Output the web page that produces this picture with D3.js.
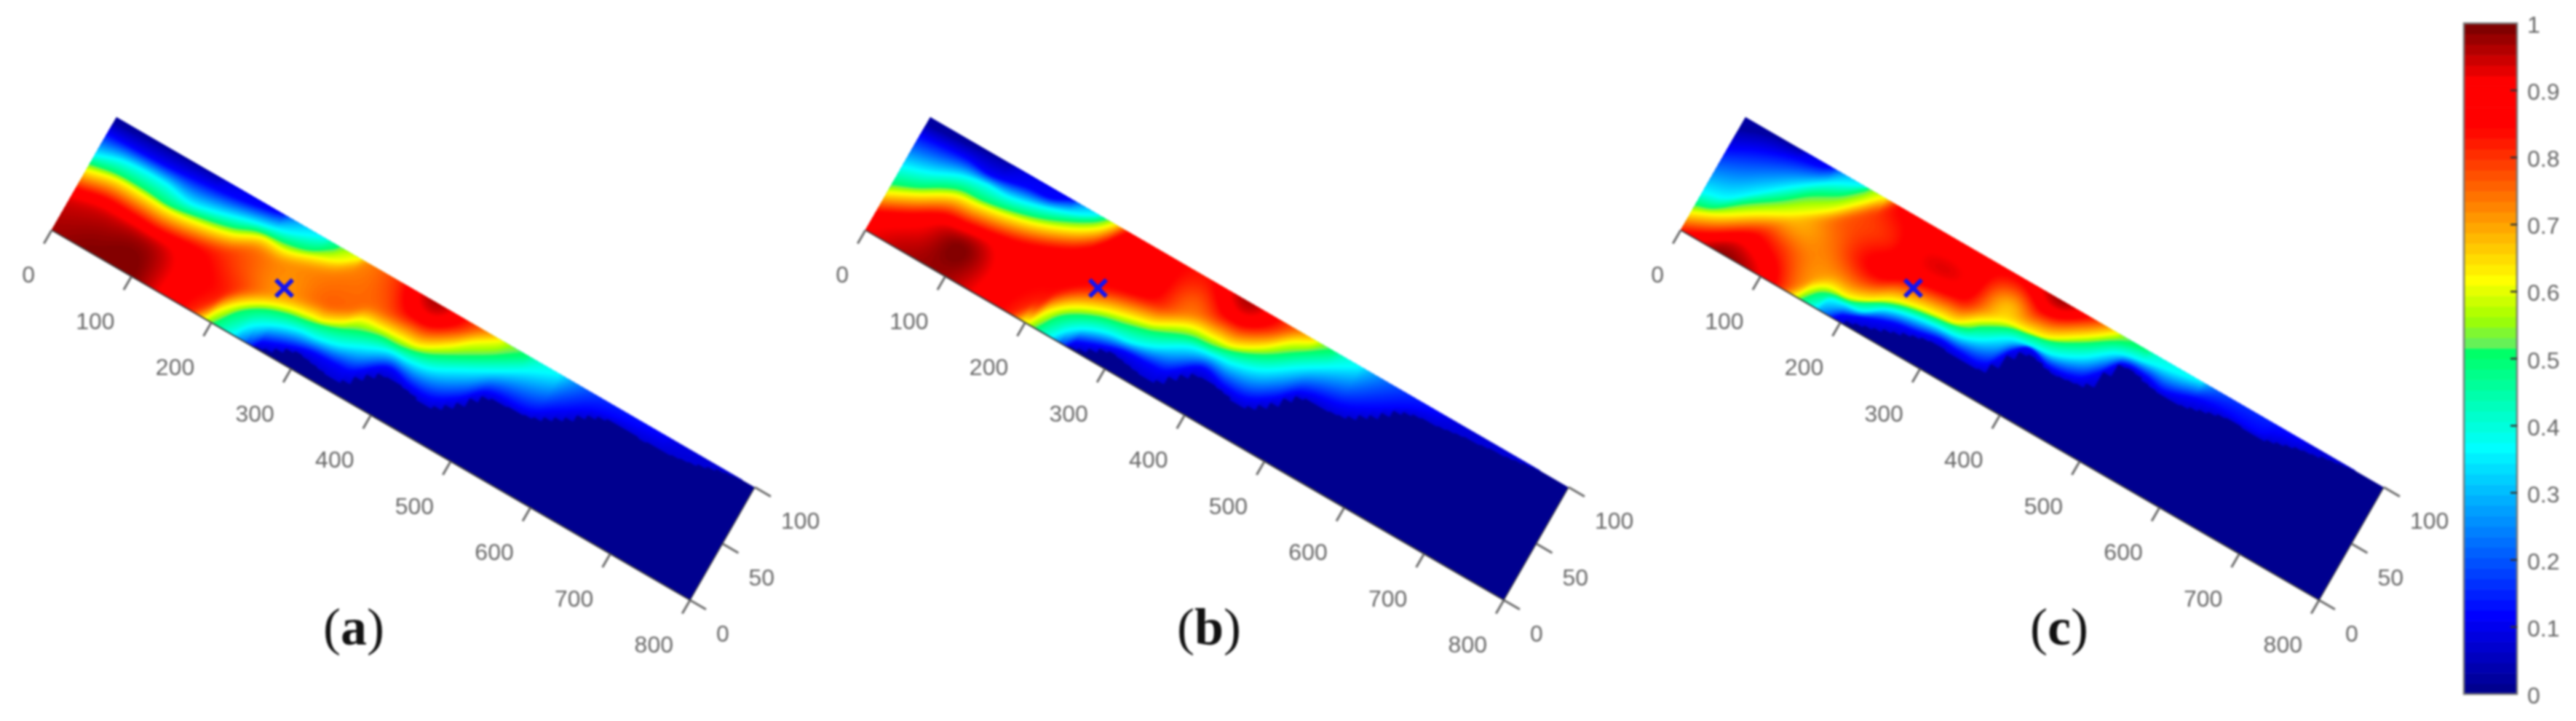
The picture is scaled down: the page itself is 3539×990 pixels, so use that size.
<!DOCTYPE html>
<html><head><meta charset="utf-8">
<style>html,body{margin:0;padding:0;background:#fff}svg{display:block;filter:blur(1.4px)}</style>
<script src="https://cdnjs.cloudflare.com/ajax/libs/d3/7.8.5/d3.min.js"></script>
</head><body><svg id="c" width="3539" height="990"></svg>
<script>
const xTicks=[0,100,200,300,400,500,600,700,800];
const yTicks=[0,50,100];
const cbTicks=[0,0.1,0.2,0.3,0.4,0.5,0.6,0.7,0.8,0.9,1];
const cbLabels=["0","0.1","0.2","0.3","0.4","0.5","0.6","0.7","0.8","0.9","1"];
const panelNames=["a","b","c"];
const markerPoint=[250,51];
const lvlFloor=0.07,lvlBlue=0.111,lvlCyan=0.365,lvlGreen=0.5,lvlYellow=0.619,lvlNavy=0.03;
const plateauX=[0,50,100,150,200,250,300,350,400,450,500];
const plateauY=[0,25,50,75,100];
const aFloor=[[255,0],[275,5],[295,13],[320,12],[348,9],[364,15],[374,22],[393,31.5],[425,29.6],[453,28.3],[477,40],[501,55.5],[550,59.3],[579,68.8],[619,86.5],[675,88],[718,90],[753,96],[780,100]];
const aLowBlue=[[258,6.5],[283,13.4],[309,18.8],[340,20],[358,21.7],[390,38],[421,34.4],[448,34.8],[473,45],[497,60],[546,64],[573,75],[607,89],[668,97],[690,100]];
const aLowCyan=[[226,0],[238,12.3],[260.6,22.5],[286,28.6],[309,30.5],[333,34.7],[357,42.5],[381.5,49.4],[408,50.6],[432,54],[460.5,64.5],[495,77.8],[525,90],[556,100.5]];
const aLowGreen=[[203,0],[219.6,16.8],[241,27.9],[266,34.4],[293.5,38.2],[319.6,43.5],[347,51.5],[367,55.5],[391,56.5],[418,61],[441.5,69],[465,78],[487.5,87.5],[510,97.6],[515,100]];
const aLowYellow=[[191,-0.6],[200,10.6],[215,22],[237,32.4],[262,39.2],[290,43],[304,44.4],[323,51],[340,60],[362,62],[386,63],[409,64.8],[436,76],[457,87.8],[479,98],[484,101]];
const aUpNavy=[[0,95],[50,97],[100,99],[130,101]];
const aUpBlue=[[0,85.8],[71.5,87],[115,89.7],[157.6,93],[199,98.3],[210,101]];
const aUpCyan=[[0,66.7],[30.7,73.5],[81,74.9],[114.5,71.3],[142,75],[181.5,82.6],[221.6,89.3],[246,96.3],[262,101.5]];
const aUpGreen=[[0,59.2],[30,63],[66,63.3],[97.6,62],[133.8,66.3],[168.7,72],[193.5,78.9],[227.4,82],[254,86.9],[275.7,97.5],[280,101.4]];
const aUpYellow=[[0,53.3],[33.7,58.5],[70.2,58.5],[101,58],[137.7,61.4],[172.7,67],[202,76],[232,76.4],[262.7,83.5],[287,90.5],[304.4,99.6],[306,101]];
const aPlateau=[
 [.98,1.0,1.0,.88,.78,.70,.75,.75,.75,.75,.75],
 [.95,.97,.98,.89,.82,.74,.76,.76,.80,.80,.80],
 [.90,.90,.90,.85,.78,.72,.77,.76,.80,.80,.80],
 [.85,.85,.85,.80,.76,.73,.75,.77,.86,.76,.72],
 [.80,.80,.80,.80,.76,.72,.72,.80,.97,.80,.70]];
const bFloor=[[255,0],[275,5],[295,13],[320,12],[348,9],[364,15],[374,22],[393,31.5],[425,29.6],[453,28.3],[477,40],[501,55.5],[550,59.3],[577,70.5],[607,86],[646,90],[672,92.4],[720,96],[760,100]];
const bLowBlue=[[258,6.5],[283,13.4],[309,18.8],[340,20],[358,21.7],[390,38],[421,34.4],[448,34.8],[473,45],[497,60],[546,68],[572,77],[606,91],[640,100]];
const bLowCyan=[[232,0],[241,9],[258,18.3],[282.7,25],[311,28],[336,34.5],[368,47.2],[395.6,50.8],[418.4,52.7],[449,60],[482,75.5],[515.6,90],[536,98.7],[540,101]];
const bLowGreen=[[214,0],[227,15],[244,24.3],[268,32],[294.8,36.6],[321,41.8],[328.3,43.7],[362.8,53.7],[391,56.5],[417,61.8],[445.7,71.4],[474,85],[505,99.5],[507,101]];
const bLowYellow=[[198,0],[203.8,2.5],[214.6,15.4],[234.8,28],[263.5,37.7],[289.6,43],[316.3,47.5],[323.8,49.4],[357,61],[385.7,63],[408.6,64.8],[436.5,75.3],[461.4,89.7],[479.6,97.2],[485,101]];
const bUpNavy=[[0,93],[50,96],[100,100]];
const bUpBlue=[[0,84],[56,87],[88,85],[129,91],[157.6,93],[180,101]];
const bUpCyan=[[0,56.4],[30,63.3],[61,73],[88.8,76.9],[116,77.2],[150.7,82.8],[189,92],[209,99.2],[212,101]];
const bUpGreen=[[0,41.3],[26,49],[49,58.4],[68.5,64],[95,65.4],[122.4,69],[156.7,75.7],[188,85.4],[211,94.7],[221,101]];
const bUpYellow=[[0,33.3],[30,44],[65,57.4],[93,60.3],[126,64.3],[160.6,70.7],[197.4,81.6],[219.6,91.8],[232,101]];
const bPlateau=[
 [.92,.97,.98,.89,.80,.76,.76,.76,.76,.76,.76],
 [.88,.92,1.0,.90,.84,.83,.84,.80,.80,.80,.80],
 [.85,.87,.92,.88,.875,.85,.84,.75,.80,.80,.80],
 [.80,.85,.88,.88,.875,.88,.88,.76,.86,.75,.72],
 [.80,.80,.85,.86,.875,.875,.87,.84,.97,.80,.70]];
const cFloor=[[200,0],[206.8,2.6],[240.4,9.9],[278.6,19],[306,22.8],[322,21.8],[362.9,23.5],[376.9,40],[394.9,51.6],[428,48],[453.9,50],[471.2,55],[488,79],[533,76],[564,75.7],[611.4,84.6],[659.8,84.9],[675,88],[720,95],[760,100]];
const cLowBlue=[[190,0],[198.3,5.6],[248,19.5],[275,23],[302.7,27],[327.5,26.2],[359,28.4],[375,45.8],[391,55.7],[419.6,51],[453,55],[469,65],[486.8,80.8],[516,82],[540,79],[578.8,87],[607.5,89.4],[653.6,88.9],[669,95],[700,101]];
const cLowCyan=[[168.6,1],[176,10.4],[191.7,13.8],[213.9,16.2],[236,26.6],[262,31.7],[290,34.7],[319,36.6],[341.3,42.7],[368,54.7],[389.6,58],[417.7,61],[446.4,70.6],[476.3,86],[508.3,91.7],[555,97.9],[573,101]];
const cLowGreen=[[153.8,2.4],[163.7,10.7],[178,15.5],[200,18.2],[228.3,28.7],[250.8,34.6],[278,38.3],[306,41.2],[324,45],[334.8,50.8],[362.8,61.2],[384.4,64.5],[411,69],[439,79.4],[468,92.5],[485.4,97.4],[505,101]];
const cLowYellow=[[145.5,3.2],[153.5,12],[168.8,19.3],[192.4,20.3],[212.6,25.4],[235.4,34.8],[261.4,40],[289.6,43],[309,45],[330.8,55.6],[354.4,64],[382.5,67],[404,70.5],[431,81.8],[453,92.6],[467.6,100.7]];
const cUpNavy=[[0,88],[30,96],[70,100]];
const cUpBlue=[[0,72],[29.4,82.6],[67.4,91.8],[99.5,97],[110,101]];
const cUpCyan=[[0,33.8],[25.2,39],[52.3,54.3],[83,72.5],[115.5,88.9],[138.8,97.3],[150,101]];
const cUpGreen=[[0,22.9],[19,27.8],[46,43.2],[78.4,59.6],[103,74],[132.8,86.3],[153,98.8],[155,101]];
const cUpYellow=[[0,15.7],[29.8,25.8],[63.4,40.6],[97.6,54.7],[130,71],[155.6,88],[171,98.8],[175,101]];
const cPlateau=[
 [.88,.99,.92,.72,.72,.72,.72,.72,.72,.72,.72],
 [.86,.89,.82,.72,.74,.80,.80,.80,.80,.80,.80],
 [.82,.80,.70,.75,.86,.87,.82,.70,.80,.80,.80],
 [.80,.80,.75,.78,.82,.93,.90,.68,.87,.76,.70],
 [.80,.80,.75,.78,.86,.87,.875,.87,.98,.80,.70]];
const panelData=[
 {name:"a",off:0,   plateau:aPlateau,low:[aFloor,aLowBlue,aLowCyan,aLowGreen,aLowYellow],up:[aUpNavy,aUpBlue,aUpCyan,aUpGreen,aUpYellow]},
 {name:"b",off:1118,plateau:bPlateau,low:[bFloor,bLowBlue,bLowCyan,bLowGreen,bLowYellow],up:[bUpNavy,bUpBlue,bUpCyan,bUpGreen,bUpYellow]},
 {name:"c",off:2238,plateau:cPlateau,low:[cFloor,cLowBlue,cLowCyan,cLowGreen,cLowYellow],up:[cUpNavy,cUpBlue,cUpCyan,cUpGreen,cUpYellow]}
];
const jet=d3.scaleLinear()
 .domain([0,0.111,0.365,0.51,0.52,0.56,0.619,0.85,0.92,1])
 .range(["#00008f","#0000ff","#00ffff","#00ff66","#60f060","#a0ff00","#ffff00","#ff0000","#ff0000","#800000"]);
const nLevels=64,surfaceLevels=200;
const xToSX=d3.scaleLinear().domain([0,800]).range([0,877]);
const xToSY=d3.scaleLinear().domain([0,800]).range([0,508]);
const yToSX=d3.scaleLinear().domain([0,100]).range([0,89]);
const yToSY=d3.scaleLinear().domain([0,100]).range([0,-155]);
const px=(x,y)=>xToSX(x)+yToSX(y);
const py=(x,y)=>xToSY(x)+yToSY(y);
const originX=71,originY=316;
function lineAt(pts,x){
  const n=pts.length;
  if(x<=pts[0][0]) return pts[0][1]-(pts[0][0]-x);
  if(x>=pts[n-1][0]) return pts[n-1][1]+(x-pts[n-1][0]);
  let i=d3.bisectRight(pts.map(p=>p[0]),x)-1;
  const p0=pts[Math.max(0,i-1)],p1=pts[i],p2=pts[i+1],p3=pts[Math.min(n-1,i+2)];
  const h=p2[0]-p1[0],t=(x-p1[0])/h;
  const m1=(p2[1]-p0[1])/(p2[0]-p0[0]),m2=(p3[1]-p1[1])/(p3[0]-p1[0]);
  const t2=t*t,t3=t2*t;
  return (2*t3-3*t2+1)*p1[1]+(t3-2*t2+t)*h*m1+(-2*t3+3*t2)*p2[1]+(t3-t2)*h*m2;
}
function cr(a,b,c,d,t){return 0.5*((2*b)+(-a+c)*t+(2*a-5*b+4*c-d)*t*t+(-a+3*b-3*c+d)*t*t*t);}
function plateauAt(g,x,y){
  const ux=Math.min(x/50,plateauX.length-1.001),uy=Math.min(Math.max(y,0)/25,plateauY.length-1.001);
  const i=Math.floor(ux),j=Math.floor(uy),tx=ux-i,ty=uy-j;
  const nc=plateauX.length,nr=plateauY.length;
  const row=r=>{const R=g[Math.max(0,Math.min(nr-1,r))];
    return cr(R[Math.max(0,i-1)],R[i],R[Math.min(nc-1,i+1)],R[Math.min(nc-1,i+2)],tx);};
  return cr(row(j-1),row(j),row(j+1),row(j+2),ty);
}
function smin(a,b,k){const m=Math.min(a,b);return m-k*Math.log(Math.exp((m-a)/k)+Math.exp((m-b)/k));}
function pieces(ys,vs,y){
  for(let i=0;i<ys.length-1;i++){ if(y<=ys[i+1]) return vs[i]+(vs[i+1]-vs[i])*(y-ys[i])/Math.max(1e-3,ys[i+1]-ys[i]); }
  return vs[vs.length-1];
}
function field(P,x,y){
  const fq=lineAt(P.low[0],Math.round(x/10)*10);
  const lb=Math.max(lineAt(P.low[1],x),fq+0.5),lc=Math.max(lineAt(P.low[2],x),lb+1),
        lg=Math.max(lineAt(P.low[3],x),lc+1),ly=Math.max(lineAt(P.low[4],x),lg+1);
  let low;
  if(y<fq) low=0;
  else if(y>=ly) low=lvlYellow+(y-ly)*0.0135;
  else low=pieces([fq,lb,lc,lg,ly],[lvlFloor,lvlBlue,lvlCyan,lvlGreen,lvlYellow],y);
  const un=lineAt(P.up[0],x),ub=Math.min(lineAt(P.up[1],x),un-0.5),uc=Math.min(lineAt(P.up[2],x),ub-1),
        ug=Math.min(lineAt(P.up[3],x),uc-1),uy=Math.min(lineAt(P.up[4],x),ug-1);
  let up;
  if(y>=un) up=0.02;
  else if(y<=uy) up=lvlYellow+(uy-y)*0.014;
  else up=pieces([uy,ug,uc,ub,un],[lvlYellow,lvlGreen,lvlCyan,lvlBlue,lvlNavy],y);
  const pl=plateauAt(P.plateau,x,y);
  let v=smin(up,pl,0.035);
  v=low===0?0:smin(low,v,0.03);
  return v;
}
const svg=d3.select("#c");
const GX=321,GY=111,stepX=2.5,stepY=1;
const thresholds=d3.range(1,surfaceLevels).map(k=>k/surfaceLevels);
const contourGen=d3.contours().size([GX,GY]).thresholds(thresholds).smooth(true);
const textGrey="#666";
panelData.forEach(P=>{
  const g=svg.append("g").attr("transform",`translate(${originX+P.off},${originY})`);
  const clipId="clip"+P.name;
  const ribbon=[[0,0],[800,0],[800,100],[0,100]];
  const ribbonPath="M"+ribbon.map(d=>[px(d[0],d[1]),py(d[0],d[1])].join(",")).join("L")+"Z";
  g.append("clipPath").attr("id",clipId).append("path").attr("d",ribbonPath);
  const values=new Float64Array(GX*GY);
  for(let j=0;j<GY;j++)for(let i=0;i<GX;i++){
    const x=Math.min(800,(i)*stepX),y=(j-5)*stepY;
    values[j*GX+i]=field(P,x,y);
  }
  const proj=d3.geoTransform({point(i,j){
    const x=(i-0.5)*stepX,y=(j-0.5-5)*stepY;
    this.stream.point(px(x,y),py(x,y));
  }});
  const path=d3.geoPath(proj);
  const surf=g.append("g").attr("clip-path",`url(#${clipId})`);
  surf.append("path").attr("d",ribbonPath).attr("fill",jet(0));
  surf.selectAll("path.band").data(contourGen(values)).join("path")
    .attr("class","band").attr("d",path).attr("fill",d=>jet(d.value+0.5/surfaceLevels));
  g.append("line").attr("x1",px(0,0)).attr("y1",py(0,0)).attr("x2",px(800,0)).attr("y2",py(800,0)).attr("stroke","#3a3a3a").attr("stroke-width",2);
  g.append("line").attr("x1",px(800,0)).attr("y1",py(800,0)).attr("x2",px(800,100)).attr("y2",py(800,100)).attr("stroke","#3a3a3a").attr("stroke-width",1.5);
  g.selectAll("line.xt").data(xTicks).join("line").attr("class","xt")
    .attr("x1",d=>px(d,0)).attr("y1",d=>py(d,0))
    .attr("x2",d=>px(d,-12)).attr("y2",d=>py(d,-12))
    .attr("stroke","#666").attr("stroke-width",3);
  g.selectAll("text.xl").data(xTicks).join("text").attr("class","xl")
    .attr("x",d=>px(d,0)-23).attr("y",d=>py(d,0)+61)
    .attr("text-anchor","end").attr("dominant-baseline","central")
    .attr("font-family","Liberation Sans").attr("font-size",32).attr("fill",textGrey).text(d=>d);
  g.selectAll("line.yt").data(yTicks).join("line").attr("class","yt")
    .attr("x1",d=>px(800,d)).attr("y1",d=>py(800,d))
    .attr("x2",d=>px(820,d)).attr("y2",d=>py(820,d))
    .attr("stroke","#666").attr("stroke-width",3);
  g.selectAll("text.yl").data(yTicks).join("text").attr("class","yl")
    .attr("x",d=>px(800,d)+36).attr("y",d=>py(800,d)+46)
    .attr("text-anchor","start").attr("dominant-baseline","central")
    .attr("font-family","Liberation Sans").attr("font-size",32).attr("fill",textGrey).text(d=>d);
  const mx=px(markerPoint[0],markerPoint[1]),my=py(markerPoint[0],markerPoint[1]),r=11.5;
  [[-1,-1,1,1],[-1,1,1,-1]].forEach(s=>{
    g.append("line").attr("x1",mx+s[0]*r).attr("y1",my+s[1]*r).attr("x2",mx+s[2]*r).attr("y2",my+s[3]*r)
     .attr("stroke","#1414f0").attr("stroke-width",6);
  });
});
const captionX={a:486,b:1661,c:2829};
const capY=885;
panelNames.forEach(n=>{
  const t=svg.append("text").attr("x",captionX[n]).attr("y",capY).attr("text-anchor","middle")
    .attr("font-family","Liberation Serif").attr("font-size",72).attr("fill","#111");
  t.append("tspan").text("(");
  t.append("tspan").attr("font-weight","bold").text(n);
  t.append("tspan").text(")");
});
const cbY=d3.scaleLinear().domain([0,1]).range([953,32]);
const cbLeft=3385,cbRight=3458;
const cb=svg.append("g");
cb.selectAll("rect").data(d3.range(nLevels)).join("rect")
  .attr("x",cbLeft).attr("width",cbRight-cbLeft)
  .attr("y",k=>cbY((k+1)/nLevels)).attr("height",k=>cbY(k/nLevels)-cbY((k+1)/nLevels)+0.6)
  .attr("fill",k=>jet(k/(nLevels-1)));
cb.append("rect").attr("x",cbLeft).attr("y",cbY(1)).attr("width",cbRight-cbLeft).attr("height",cbY(0)-cbY(1))
  .attr("fill","none").attr("stroke","#777").attr("stroke-width",2.5);
cb.selectAll("line.t").data(cbTicks.slice(1,-1)).join("line").attr("class","t")
  .attr("x1",cbRight-9).attr("x2",cbRight).attr("y1",d=>cbY(d)).attr("y2",d=>cbY(d))
  .attr("stroke","#333").attr("stroke-width",2.5);
cb.selectAll("text").data(cbTicks).join("text")
  .attr("x",3472).attr("y",d=>cbY(d)+2).attr("dominant-baseline","central")
  .attr("font-family","Liberation Sans").attr("font-size",32).attr("fill",textGrey)
  .text((d,i)=>cbLabels[i]);
</script></body></html>
